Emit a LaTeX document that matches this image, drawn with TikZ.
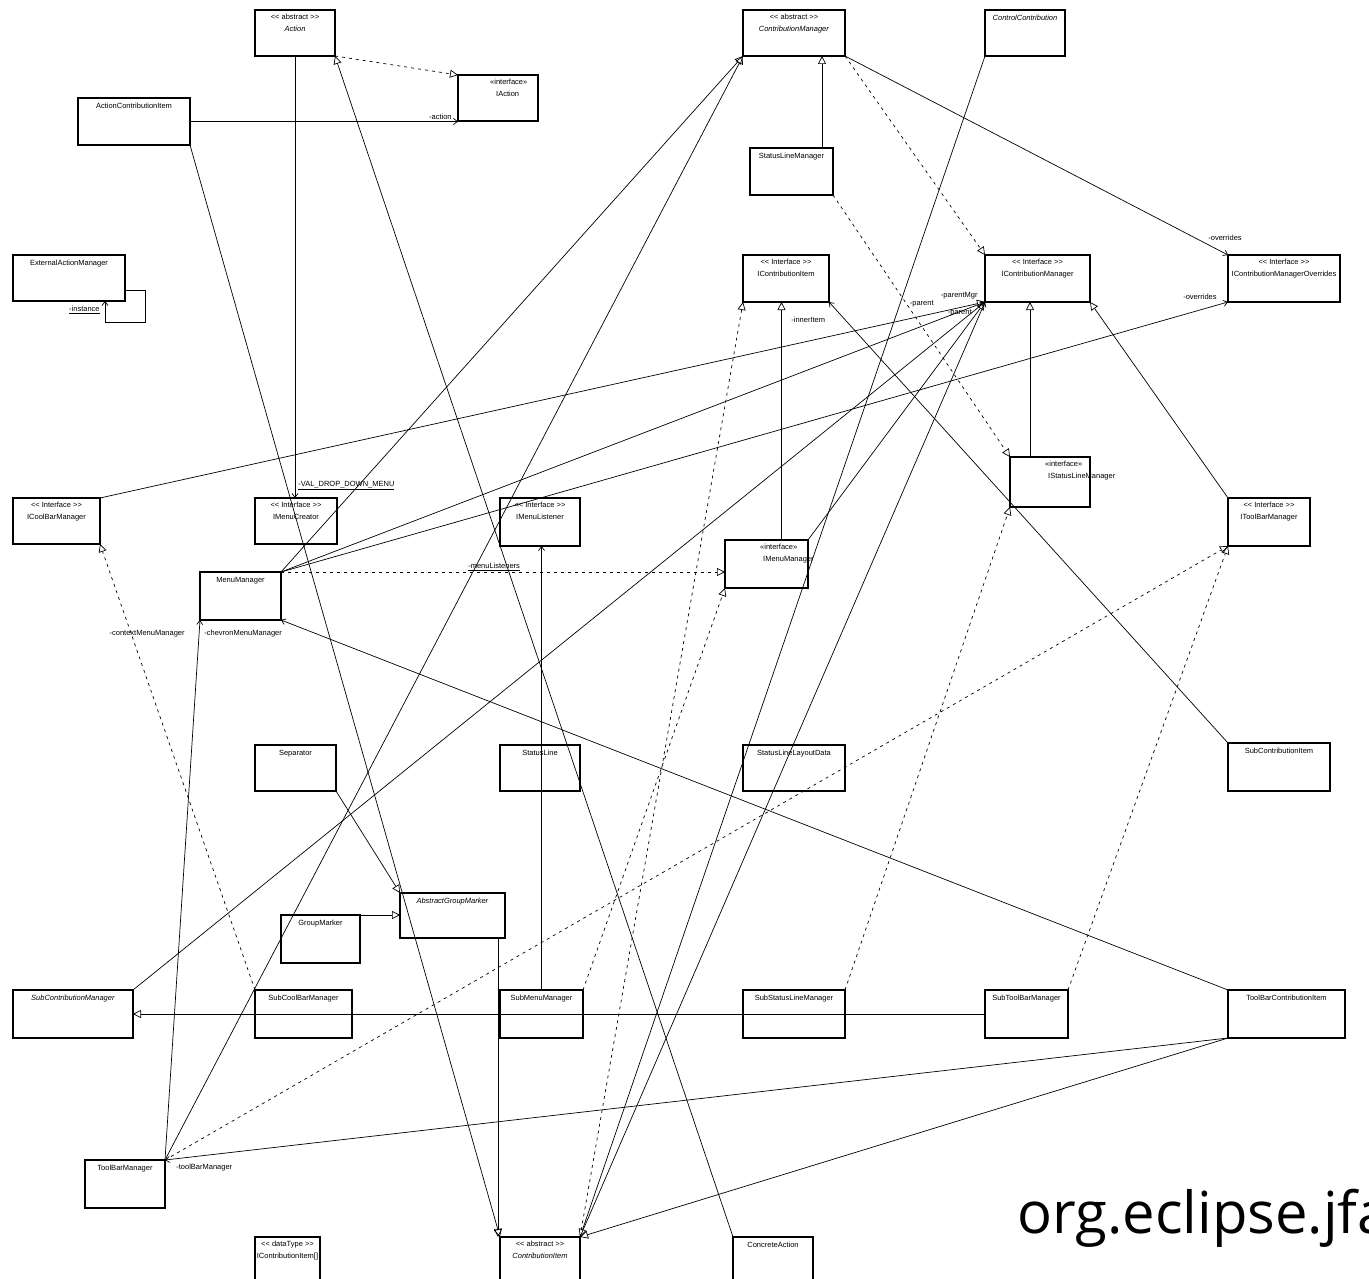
\documentclass[tikz,border=0pt]{standalone}
\usepackage{fontspec}
\usetikzlibrary{arrows.meta,calc}
\newfontfamily\umlfont{Liberation Sans}
\newfontfamily\capfont{Open Sans}
\newcommand{\uml}{\umlfont\fontsize{7.5}{12}\selectfont}

\begin{document}
\begin{tikzpicture}[x=1pt,y=-1pt,
  cls/.style={draw, line width=1.2pt, inner sep=0pt, outer sep=0pt, anchor=north west},
  two/.style={anchor=north, align=center, font=\uml, inner sep=0pt, yshift=-4pt},
  one/.style={anchor=north, font=\uml, inner sep=0pt, yshift=-5pt},
  shifted/.style={anchor=north west, align=left, font=\uml, inner sep=0pt, xshift=#1, yshift=-4pt},
  gen/.style={draw, line width=0.7pt, -{Triangle[open,length=8pt,width=8pt]}},
  real/.style={gen, dash pattern=on 3pt off 4pt},
  assoc/.style={draw, line width=0.7pt, -{Straight Barb[length=4pt,width=6pt]}},
  elab/.style={font=\uml, inner sep=1pt},
]
\useasboundingbox (0,0) rectangle (1369,1279);
\fill[white] (0,0) rectangle (1369,1279);
\clip (0,0) rectangle (1369,1279);

% ---------- classes ----------
\node[cls,minimum width=80pt,minimum height=46pt,label={[two]north:{<< abstract >>\\\textit{Action}}}] (action) at (255,10) {};
\node[cls,minimum width=80pt,minimum height=46pt,label={[shifted=32pt]north west:{«interface»\\\hspace*{6pt}IAction}}] (iaction) at (458,75) {};
\node[cls,minimum width=112pt,minimum height=47pt,label={[one]north:{ActionContributionItem}}] (aci) at (78,98) {};
\node[cls,minimum width=112pt,minimum height=46pt,label={[one]north:{ExternalActionManager}}] (extam) at (13,255) {};
\node[cls,minimum width=102pt,minimum height=46pt,label={[two]north:{<< abstract >>\\\textit{ContributionManager}}}] (cmgr) at (743,10) {};
\node[cls,minimum width=80pt,minimum height=46pt,label={[one]north:{\textit{ControlContribution}}}] (ctrlc) at (985,10) {};
\node[cls,minimum width=83pt,minimum height=47pt,label={[one]north:{StatusLineManager}}] (stlmgr) at (750,148) {};
\node[cls,minimum width=86pt,minimum height=47pt,label={[two]north:{<< Interface >>\\IContributionItem}}] (icitem) at (743,255) {};
\node[cls,minimum width=105pt,minimum height=47pt,label={[two]north:{<< Interface >>\\IContributionManager}}] (icmgr) at (985,255) {};
\node[cls,minimum width=112pt,minimum height=47pt,label={[two]north:{<< Interface >>\\IContributionManagerOverrides}}] (icmgro) at (1228,255) {};
\node[cls,minimum width=87pt,minimum height=46pt,label={[two]north:{<< Interface >>\\ICoolBarManager}}] (icoolbar) at (13,498) {};
\node[cls,minimum width=82pt,minimum height=46pt,label={[two]north:{<< Interface >>\\IMenuCreator}}] (imcreator) at (255,498) {};
\node[cls,minimum width=80pt,minimum height=48pt,label={[two]north:{<< Interface >>\\IMenuListener}}] (imlistener) at (500,498) {};
\node[cls,minimum width=80pt,minimum height=50pt,label={[shifted=35pt]north west:{«interface»\\\hspace*{3pt}IStatusLineManager}}] (istlmgr) at (1010,457) {};
\node[cls,minimum width=83pt,minimum height=48pt,label={[shifted=35pt]north west:{«interface»\\\hspace*{3pt}IMenuManager}}] (imenumgr) at (725,540) {};
\node[cls,minimum width=82pt,minimum height=48pt,label={[two]north:{<< Interface >>\\IToolBarManager}}] (itbmgr) at (1228,498) {};
\node[cls,minimum width=81pt,minimum height=48pt,label={[one]north:{MenuManager}}] (menumgr) at (200,572) {};
\node[cls,minimum width=81pt,minimum height=46pt,label={[one]north:{Separator}}] (separator) at (255,745) {};
\node[cls,minimum width=80pt,minimum height=46pt,label={[one]north:{StatusLine}}] (statusline) at (500,745) {};
\node[cls,minimum width=102pt,minimum height=46pt,label={[one]north:{StatusLineLayoutData}}] (stlld) at (743,745) {};
\node[cls,minimum width=102pt,minimum height=48pt,label={[one]north:{SubContributionItem}}] (subci) at (1228,743) {};
\node[cls,minimum width=105pt,minimum height=45pt,label={[one]north:{\textit{AbstractGroupMarker}}}] (agm) at (400,893) {};
\node[cls,minimum width=79pt,minimum height=48pt,label={[one]north:{GroupMarker}}] (groupmarker) at (281,915) {};
\node[cls,minimum width=120pt,minimum height=48pt,label={[one]north:{\textit{SubContributionManager}}}] (subcm) at (13,990) {};
\node[cls,minimum width=97pt,minimum height=48pt,label={[one]north:{SubCoolBarManager}}] (subcoolbar) at (255,990) {};
\node[cls,minimum width=83pt,minimum height=48pt,label={[one]north:{SubMenuManager}}] (submenumgr) at (500,990) {};
\node[cls,minimum width=102pt,minimum height=48pt,label={[one]north:{SubStatusLineManager}}] (substlmgr) at (743,990) {};
\node[cls,minimum width=83pt,minimum height=48pt,label={[one]north:{SubToolBarManager}}] (subtbm) at (985,990) {};
\node[cls,minimum width=117pt,minimum height=48pt,label={[one]north:{ToolBarContributionItem}}] (tbci) at (1228,990) {};
\node[cls,minimum width=80pt,minimum height=48pt,label={[one]north:{ToolBarManager}}] (tbmgr) at (85,1160) {};
\node[cls,minimum width=65pt,minimum height=48pt,label={[two]north:{<< dataType >>\\IContributionItem[]}}] (icitemarr) at (255,1237) {};
\node[cls,minimum width=80pt,minimum height=48pt,label={[two]north:{<< abstract >>\\\textit{ContributionItem}}}] (citem) at (500,1237) {};
\node[cls,minimum width=80pt,minimum height=48pt,label={[one]north:{ConcreteAction}}] (concrete) at (733,1237) {};

% package caption
\node[anchor=base west, font=\capfont\fontsize{58}{62}\selectfont, inner sep=0pt] (pkg) at (1017,1233) {org.eclipse.jface.action};

% ---------- helper points on box edges ----------
\coordinate (slmtop) at ([xshift=-11pt]stlmgr.north east);
\coordinate (agmfoot) at ([xshift=-7pt]agm.south east);
\coordinate (imtop) at ([xshift=15pt]imenumgr.north);
\coordinate (isttop) at ([xshift=20pt]istlmgr.north west);

% ---------- generalizations ----------
\draw[gen] (concrete.north west) -- (action.south east);
\draw[gen] (slmtop) -- (slmtop |- cmgr.south);
\draw[gen] (tbmgr.north east) -- (cmgr.south west);
\draw[gen] (menumgr.north east) -- (cmgr.south west);
\draw[gen] (separator.south east) -- (agm.north west);
\draw[gen] (groupmarker.north east) -- (groupmarker.north east -| agm.west);
\draw[gen] (agmfoot) -- (agmfoot |- citem.north);
\draw[gen] (aci.south east) -- (citem.north west);
\draw[gen] (ctrlc.south west) -- (citem.north east);
\draw[gen] (tbci.south west) -- (citem.north east);
\draw[gen] (subtbm.west) -- (subtbm.west -| subcm.east);
\draw[gen] (imtop) -- (imtop |- icitem.south);
\draw[gen] (imenumgr.north east) -- (icmgr.south west);
\draw[gen] (isttop) -- (isttop |- icmgr.south);
\draw[gen] (itbmgr.north west) -- (icmgr.south east);
\draw[gen] (icoolbar.north east) -- (icmgr.south west);

% ---------- realizations ----------
\draw[real] (action.south east) -- (iaction.north west);
\draw[real] (cmgr.south east) -- (icmgr.north west);
\draw[real] (stlmgr.south east) -- (istlmgr.north west);
\draw[real] (menumgr.north east) -- node[elab, pos=0.48, above]{\underline{-menuListeners}} (menumgr.north east -| imenumgr.west);
\draw[real] (submenumgr.north east) -- (imenumgr.south west);
\draw[real] (substlmgr.north east) -- (istlmgr.south west);
\draw[real] (subtbm.north east) -- (itbmgr.south west);
\draw[real] (tbmgr.north east) -- (itbmgr.south west);
\draw[real] (subcoolbar.north west) -- (icoolbar.south east);
\draw[real] (citem.north east) -- (icitem.south west);

% ---------- associations ----------
\draw[assoc] (aci.east) -- (aci.east -| iaction.west)
  node[elab, pos=1, anchor=south east, xshift=-5pt, yshift=1pt]{-action};
\draw[assoc] (action.south) -- (action.south |- imcreator.north)
  node[elab, pos=1, anchor=south west, xshift=2pt, yshift=7pt]{\underline{-VAL\_DROP\_DOWN\_MENU}};
\draw[assoc] (cmgr.south east) -- (icmgro.north west)
  node[elab, pos=1, anchor=south, xshift=-3pt, yshift=13pt]{-overrides};
\draw[assoc] (menumgr.north east) -- (icmgro.south west)
  node[elab, pos=1, anchor=east, xshift=-10pt, yshift=5pt]{-overrides};
\draw[assoc] (subci.north west) -- (icitem.south east)
  node[elab, pos=1, anchor=west, xshift=-39pt, yshift=-18pt]{-innerItem};
\draw[assoc] (menumgr.north east) -- (icmgr.south west)
  node[elab, pos=1, anchor=east, xshift=-50pt, yshift=-2pt]{-parent};
\draw[assoc] (subcm.north east) -- (icmgr.south west)
  node[elab, pos=1, anchor=east, xshift=-6pt, yshift=6pt]{-parentMgr};
\draw[assoc] (citem.north east) -- (icmgr.south west)
  node[elab, pos=1, anchor=east, xshift=-12pt, yshift=-11pt]{-parent};
\draw[assoc] (submenumgr.north) -- (submenumgr.north |- imlistener.south);
\draw[assoc] (tbmgr.north east) -- (menumgr.south west)
  node[elab, pos=1, anchor=east, xshift=-14pt, yshift=-14pt]{-contextMenuManager};
\draw[assoc] (tbci.north west) -- (menumgr.south east)
  node[elab, pos=1, anchor=west, xshift=-78pt, yshift=-14pt]{-chevronMenuManager};
\draw[assoc] (tbci.south west) -- (tbmgr.north east)
  node[elab, pos=1, anchor=west, xshift=10pt, yshift=-8pt]{-toolBarManager};
\draw[assoc] ([yshift=-12pt]extam.east) -- ++(20,0) -- ++(0,32) -| ([xshift=-20pt]extam.south east)
  node[elab, pos=1, anchor=east, xshift=-4pt, yshift=-9pt]{\underline{-instance}};

\end{tikzpicture}
\end{document}
